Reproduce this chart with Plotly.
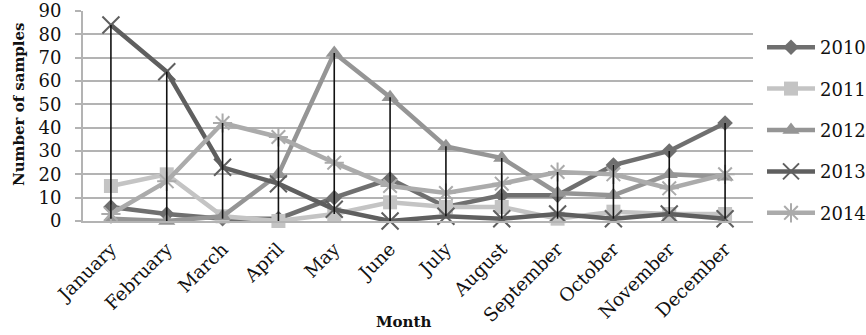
import plotly.graph_objects as go

months = ["January", "February", "March", "April", "May", "June", "July",
          "August", "September", "October", "November", "December"]

y2010 = [6, 3, 1, 1, 10, 18, 6, 11, 11, 24, 30, 42]
y2011 = [15, 20, 2, 0, 3, 8, 6, 6, 1, 4, 3, 3]
y2012 = [1, 0, 2, 20, 72, 53, 32, 27, 12, 11, 20, 19]
y2013 = [84, 64, 23, 16, 5, 0, 2, 1, 3, 1, 3, 1]
y2014 = [3, 17, 42, 36, 25, 15, 12, 16, 21, 20, 14, 20]

series = [
    ("2010", y2010, "#6f6f6f", dict(symbol="diamond", size=12)),
    ("2011", y2011, "#c4c4c4", dict(symbol="square", size=14)),
    ("2012", y2012, "#959595", dict(symbol="triangle-up", size=15)),
    ("2013", y2013, "#5f5f5f", dict(symbol="x-thin-open", size=17, line=dict(width=2, color="#5f5f5f"))),
    ("2014", y2014, "#ababab", dict(symbol="asterisk-open", size=16, line=dict(width=2, color="#b5b5b5"))),
]

SERIF = "DejaVu Serif"

fig = go.Figure()
for name, vals, color, marker in series:
    m = dict(color=color)
    m.update(marker)
    fig.add_trace(go.Scatter(
        x=months, y=vals, name=name, mode="lines+markers",
        line=dict(color=color, width=4.5), marker=m,
        legendgroup=name, cliponaxis=False,
    ))

# high-low lines: from the highest to the lowest value of each month
all_vals = [y2010, y2011, y2012, y2013, y2014]
hl_x, hl_y = [], []
for i, m in enumerate(months):
    col = [v[i] for v in all_vals]
    hl_x += [m, m, None]
    hl_y += [max(col), min(col), None]
fig.add_trace(go.Scatter(
    x=hl_x, y=hl_y, mode="lines", line=dict(color="#111111", width=1.6),
    showlegend=False, hoverinfo="skip", cliponaxis=False,
))

L, R, T, B = 83, 113, 11, 114
W, H = 866, 335
pw, ph = W - L - R, H - T - B


def px_x(x):
    return (x - L) / pw


def px_y(y):
    return (H - B - y) / ph


fig.update_layout(
    width=W, height=H,
    margin=dict(l=L, r=R, t=T, b=B, autoexpand=False),
    plot_bgcolor="white", paper_bgcolor="white",
    showlegend=True,
    legend=dict(
        x=px_x(762), xanchor="left", y=px_y(29), yanchor="top",
        font=dict(family=SERIF, size=18, color="#111111"),
        tracegroupgap=15, itemwidth=48, bgcolor="rgba(0,0,0,0)",
        maxheight=1,
    ),
    annotations=[
        dict(text="<b>Number of samples</b>", textangle=-90,
             x=px_x(19), xref="paper", xanchor="center",
             y=px_y(104), yref="paper", yanchor="middle", showarrow=False,
             font=dict(family=SERIF, size=15, color="#111111")),
        dict(text="<b>Month</b>", x=px_x(403), xref="paper", xanchor="center",
             y=px_y(322), yref="paper", yanchor="middle",
             showarrow=False, font=dict(family=SERIF, size=15, color="#111111")),
    ],
)

fig.update_xaxes(
    type="category", range=[-0.5, len(months) - 0.5], tickangle=-45,
    showgrid=False, automargin=False,
    showline=True, linecolor="#b3b3b3", linewidth=2,
    ticks="", tickfont=dict(family=SERIF, size=18.5, color="#111111"),
    ticklabelstandoff=8,
)
fig.update_yaxes(
    range=[0, 90], dtick=10, showgrid=True, gridcolor="#b3b3b3", gridwidth=2,
    showline=True, linecolor="#b3b3b3", linewidth=2, zeroline=False, automargin=False,
    ticks="outside", ticklen=6, tickcolor="#b3b3b3", tickwidth=2,
    tickfont=dict(family=SERIF, size=18, color="#111111"),
    ticklabelstandoff=10,
)

fig.write_html("out.html")
